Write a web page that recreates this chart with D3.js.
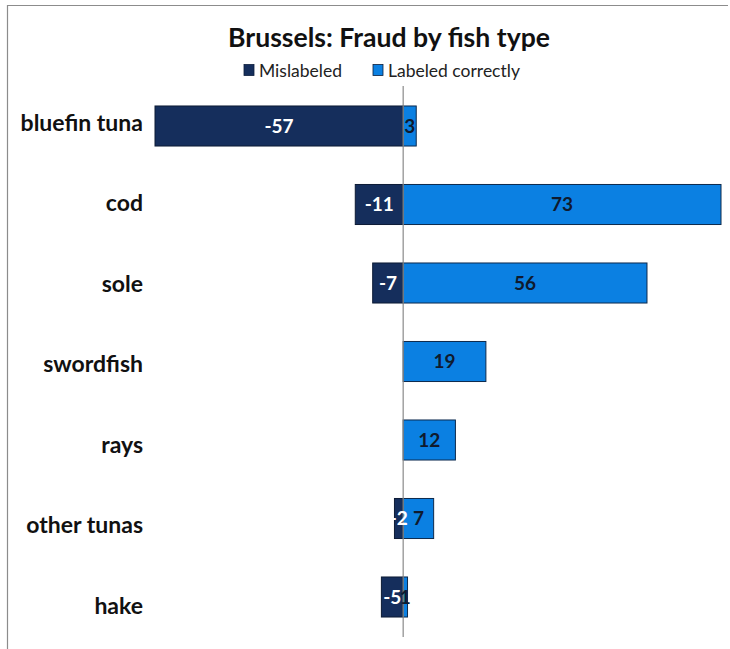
<!DOCTYPE html>
<html>
<head>
<meta charset="utf-8">
<script src="https://cdn.jsdelivr.net/npm/d3@7"></script>
<style>
  html, body { margin: 0; padding: 0; background: #fff; }
  svg { display: block; font-family: Lato, "Open Sans", sans-serif; }
</style>
</head>
<body>
<svg id="chart" width="730" height="649"></svg>
<script>
// Fish types and counts of samples per outcome
const categories = ["bluefin tuna", "cod", "sole", "swordfish", "rays", "other tunas", "hake"];
const mislabeled = [-57, -11, -7, 0, 0, -2, -5];
const labeledCorrectly = [3, 73, 56, 19, 12, 7, 1];
const seriesNames = ["Mislabeled", "Labeled correctly"];
const seriesColors = ["#152e5c", "#0b80e2"];

const svg = d3.select("#chart");
const W = 730, H = 649;

// frame
svg.append("line").attr("x1", 7.5).attr("x2", 7.5).attr("y1", 5).attr("y2", H)
  .attr("stroke", "#8c8c8c").attr("stroke-width", 1.2);
svg.append("line").attr("x1", 7).attr("x2", 728).attr("y1", 5.5).attr("y2", 5.5)
  .attr("stroke", "#8c8c8c").attr("stroke-width", 1.2);

const x = d3.scaleLinear().domain([-57, 73]).range([155, 721]);
const y = d3.scaleBand().domain(categories).range([86.75, 636.25]).paddingInner(0.49).paddingOuter(0.245);
// category labels are spread on a slightly wider step than the bars
const yLabel = d3.scalePoint().domain(categories).range([124, 607]);

// title
svg.append("text").attr("x", 389).attr("y", 47).attr("text-anchor", "middle")
  .attr("font-size", 26.6).attr("font-weight", "bold").attr("fill", "#111")
  .text("Brussels: Fraud by fish type");

// legend
const legend = svg.append("g");
const legendItems = [{x: 244, name: seriesNames[0], color: seriesColors[0]},
                     {x: 373, name: seriesNames[1], color: seriesColors[1]}];
legendItems.forEach(d => {
  legend.append("rect").attr("x", d.x).attr("y", 64.5).attr("width", 10).attr("height", 11)
    .attr("fill", d.color).attr("stroke", "#0d1e3c").attr("stroke-width", 0.8);
  legend.append("text").attr("x", d.x + 15).attr("y", 77)
    .attr("font-size", 17.5).attr("fill", "#222").text(d.name);
});

// category labels
svg.append("g").selectAll("text").data(categories).join("text")
  .attr("x", 143).attr("y", d => yLabel(d) + 1)
  .attr("text-anchor", "end").attr("dominant-baseline", "middle")
  .attr("font-size", 23).attr("font-weight", "bold").attr("fill", "#111")
  .text(d => d);

const rows = categories.map((c, i) => ({cat: c, neg: mislabeled[i], pos: labeledCorrectly[i]}));

// bars
const bars = svg.append("g");
rows.forEach(r => {
  if (r.neg !== 0) {
    bars.append("rect").attr("x", x(r.neg)).attr("y", y(r.cat))
      .attr("width", x(0) - x(r.neg)).attr("height", y.bandwidth())
      .attr("fill", seriesColors[0]).attr("stroke", "#0d1b35").attr("stroke-width", 1);
  }
  if (r.pos !== 0) {
    bars.append("rect").attr("x", x(0)).attr("y", y(r.cat))
      .attr("width", x(r.pos) - x(0)).attr("height", y.bandwidth())
      .attr("fill", seriesColors[1]).attr("stroke", "#0d2a4d").attr("stroke-width", 1);
  }
});

// zero axis
svg.append("line").attr("x1", x(0)).attr("x2", x(0)).attr("y1", 86).attr("y2", 637)
  .attr("stroke", "#8a8a8a").attr("stroke-width", 1.2);

// value labels
const labels = svg.append("g").attr("font-size", 19).attr("font-weight", "bold");
rows.forEach(r => {
  const cy = y(r.cat) + y.bandwidth() / 2 + 2;
  if (r.neg !== 0) {
    labels.append("text").attr("x", (x(r.neg) + x(0)) / 2).attr("y", cy)
      .attr("text-anchor", "middle").attr("dominant-baseline", "middle")
      .attr("fill", "#fff").text(r.neg);
  }
  if (r.pos !== 0) {
    labels.append("text").attr("x", (x(r.pos) + x(0)) / 2).attr("y", cy)
      .attr("text-anchor", "middle").attr("dominant-baseline", "middle")
      .attr("fill", "#0f1a2e").text(r.pos);
  }
});
</script>
</body>
</html>
